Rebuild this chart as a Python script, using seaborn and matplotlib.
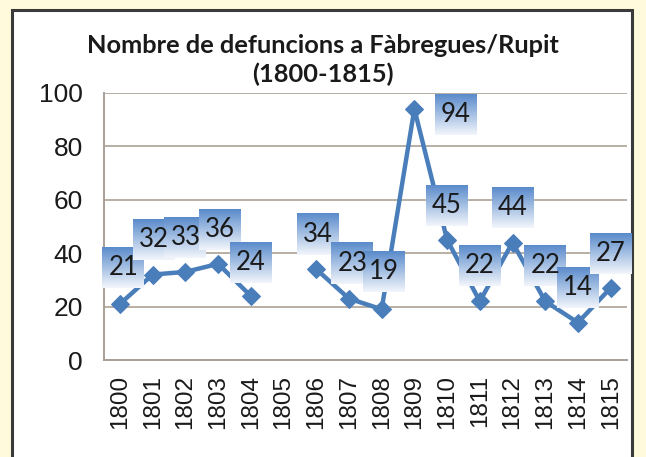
import numpy as np
import pandas as pd
import matplotlib
matplotlib.use("Agg")
import matplotlib.pyplot as plt
from matplotlib.patches import Rectangle
import seaborn as sns

years = ["1800", "1801", "1802", "1803", "1804", "1805", "1806", "1807",
         "1808", "1809", "1810", "1811", "1812", "1813", "1814", "1815"]
deaths = [21, 32, 33, 36, 24, np.nan, 34, 23, 19, 94, 45, 22, 44, 22, 14, 27]
title = "Nombre de defuncions a Fàbregues/Rupit\n(1800-1815)"
yticks = [0, 20, 40, 60, 80, 100]

# label placement offsets (category units, value units)
lab_dx = [0.1, 0.05, 0.0, 0.05, 0.0, 0, 0.04, 0.1, 0.07, 1.26, 0.0, 0.0, 0.0, 0.0, 0.0, 0.0]
lab_dy = [13.7, 13, 13, 13, 12.5, 0, 13, 13, 14, -2, 13, 13.5, 13, 13.5, 13, 13]

sns.set_theme(style="white")
plt.rcParams["font.family"] = ["Liberation Sans", "DejaVu Sans"]

W, H, DPI = 646, 457, 100
fig = plt.figure(figsize=(W / DPI, H / DPI), dpi=DPI, facecolor="#FFFADB")
frame = Rectangle((12 / W, -0.05), (632 - 12) / W, (H - 10) / H + 0.05,
                  transform=fig.transFigure, facecolor="white",
                  edgecolor="#3A3A3A", lw=2.2, zorder=-10)
fig.patches.append(frame)

ax = fig.add_axes([103.6 / W, (H - 360) / H, (627 - 103.6) / W, (360 - 93) / H])
ax.set_facecolor("none")
ax.set_zorder(1)

idx = np.arange(len(years))
vals = np.array(deaths, dtype=float)
seg = np.cumsum(np.isnan(vals))
df = pd.DataFrame({"i": idx, "v": vals, "seg": seg}).dropna()

line_color = "#4A7EBB"
sns.lineplot(data=df, x="i", y="v", units="seg", estimator=None, ax=ax,
             color=line_color, lw=3.2, marker="D", markersize=9.5,
             markeredgecolor=line_color, zorder=2)

ax.set_xlim(-0.5, len(years) - 0.5)
ax.set_ylim(0, 100)
ax.set_yticks(yticks)
ax.set_yticklabels([str(t) for t in yticks], fontsize=19, color="#1A1A1A")
ax.set_xticks(idx)
ax.set_xticklabels(years, rotation=90, fontsize=17.5, color="#1A1A1A")
ax.set_xticks(np.arange(-0.5, len(years)), minor=True)
ax.tick_params(axis="x", which="major", length=0, pad=11)
ax.tick_params(axis="x", which="minor", length=7, width=1.2, color="#A8A098", direction="out")
ax.tick_params(axis="y", length=7, width=1.2, color="#A8A098", direction="out", pad=8)
ax.set_xlabel("")
ax.set_ylabel("")
ax.grid(axis="y", color="#B8AEA4", lw=1.4)
ax.set_axisbelow(True)
for s in ["top", "right"]:
    ax.spines[s].set_visible(False)
for s in ["left", "bottom"]:
    ax.spines[s].set_color("#A8A098")
    ax.spines[s].set_linewidth(1.4)

fig.text(0.5, (H - 60) / H, title, ha="center", va="center", fontsize=18.3,
         fontweight="bold", family=["Lato", "DejaVu Sans"], color="#1A1A1A",
         linespacing=1.3)

texts = []
for i, v in enumerate(vals):
    if np.isnan(v):
        continue
    t = ax.text(i + lab_dx[i], v + lab_dy[i], f"{int(v)}", ha="center", va="center",
                fontsize=18.5, family=["Lato", "DejaVu Sans"], color="#1A1A1A", zorder=6)
    texts.append(t)

fig.canvas.draw()
grad = np.linspace(0, 1, 64)[:, None]
top = np.array(matplotlib.colors.to_rgb("#5A8BCB"))
bot = np.array(matplotlib.colors.to_rgb("#F2F6FC"))
img = top[None, None, :] * (1 - grad[..., None]) + bot[None, None, :] * grad[..., None]
inv = ax.transData.inverted()
bw, bh = 42, 41
for t in texts:
    cx, cy = ax.transData.transform(t.get_position())
    (x0, y0) = inv.transform((cx - bw / 2, cy - bh / 2))
    (x1, y1) = inv.transform((cx + bw / 2, cy + bh / 2))
    ax.imshow(img, extent=[x0, x1, y0, y1], aspect="auto", zorder=4,
              origin="upper", clip_on=False, interpolation="bilinear")

ax.set_xlim(-0.5, len(years) - 0.5)
ax.set_ylim(0, 100)
fig.savefig("out.png", dpi=DPI, facecolor=fig.get_facecolor())
